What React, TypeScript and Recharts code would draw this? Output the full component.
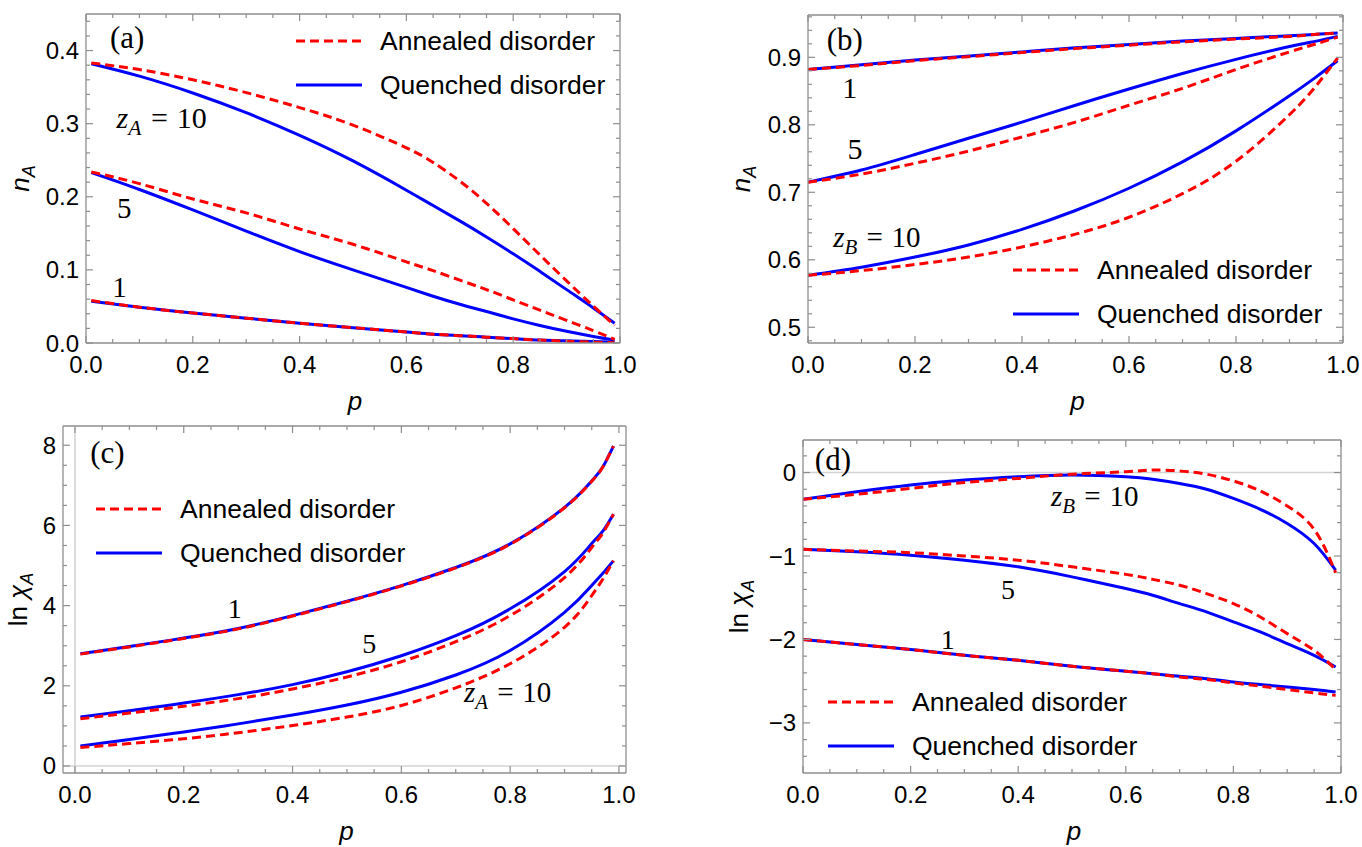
import React from 'react';
import { LineChart, Line, XAxis, YAxis, ReferenceLine, ReferenceDot, Legend } from 'recharts';

const FRAME = '#8e8e8e';
const ZERO = '#d4d4d4';
const BLUE = '#0000ff';
const RED = '#ff0000';
const SANS = '"Liberation Sans", Arial, Helvetica, sans-serif';
const SERIF = '"Liberation Serif", "Times New Roman", Times, serif';
const ANNEALED = 'Annealed disorder';
const QUENCHED = 'Quenched disorder';

// ---------------- panel (a): n_A vs p, z_A = 1, 5, 10 ----------------
const pA = [0.01, 0.1, 0.2, 0.3, 0.4, 0.5, 0.6, 0.65, 0.7, 0.75, 0.8, 0.85, 0.9, 0.95, 0.99];
const aQuenched10 = [0.382, 0.365, 0.342, 0.315, 0.284, 0.249, 0.209, 0.188, 0.167, 0.145, 0.122, 0.098, 0.073, 0.048, 0.027];
const aAnnealed10 = [0.383, 0.374, 0.36, 0.3425, 0.322, 0.298, 0.267, 0.247, 0.2215, 0.191, 0.1565, 0.1205, 0.085, 0.0505, 0.024];
const aQuenched5 = [0.233, 0.21, 0.182, 0.153, 0.125, 0.1, 0.076, 0.064, 0.053, 0.043, 0.033, 0.024, 0.016, 0.009, 0.004];
const aAnnealed5 = [0.234, 0.218, 0.197, 0.178, 0.156, 0.135, 0.111, 0.099, 0.086, 0.073, 0.059, 0.045, 0.031, 0.017, 0.005];
const aQuenched1 = [0.057, 0.049, 0.041, 0.034, 0.027, 0.021, 0.015, 0.012, 0.01, 0.008, 0.006, 0.004, 0.003, 0.002, 0.001];
const aAnnealed1 = [0.058, 0.049, 0.041, 0.034, 0.027, 0.021, 0.015, 0.012, 0.01, 0.008, 0.006, 0.004, 0.0025, 0.0012, 0.0003];

// ---------------- panel (b): n_A vs p, z_B = 1, 5, 10 ----------------
const pB = [0, 0.1, 0.2, 0.3, 0.4, 0.5, 0.6, 0.7, 0.8, 0.9, 0.95, 0.99];
const bQuenched1 = [0.882, 0.889, 0.896, 0.902, 0.908, 0.914, 0.919, 0.924, 0.928, 0.932, 0.934, 0.936];
const bAnnealed1 = [0.882, 0.888, 0.895, 0.901, 0.907, 0.913, 0.918, 0.923, 0.927, 0.931, 0.934, 0.936];
const bQuenched5 = [0.715, 0.733, 0.756, 0.78, 0.804, 0.829, 0.853, 0.876, 0.897, 0.916, 0.924, 0.931];
const bAnnealed5 = [0.715, 0.727, 0.743, 0.761, 0.782, 0.804, 0.829, 0.854, 0.882, 0.908, 0.92, 0.93];
const bQuenched10 = [0.577, 0.589, 0.604, 0.622, 0.645, 0.673, 0.706, 0.745, 0.791, 0.843, 0.871, 0.895];
const bAnnealed10 = [0.577, 0.584, 0.593, 0.604, 0.619, 0.638, 0.663, 0.698, 0.746, 0.815, 0.858, 0.899];

// ---------------- panel (c): ln chi_A vs p, z_A = 1, 5, 10 ----------------
const pC = [0.01, 0.1, 0.2, 0.3, 0.4, 0.5, 0.6, 0.7, 0.8, 0.9, 0.95, 0.97, 0.99];
const cQuenched1 = [2.8, 2.98, 3.19, 3.43, 3.75, 4.11, 4.5, 4.95, 5.54, 6.45, 7.11, 7.45, 7.98];
const cAnnealed1 = [2.79, 2.97, 3.18, 3.42, 3.74, 4.1, 4.49, 4.94, 5.53, 6.44, 7.1, 7.45, 7.98];
const cQuenched5 = [1.22, 1.38, 1.57, 1.78, 2.03, 2.35, 2.75, 3.25, 3.92, 4.85, 5.55, 5.85, 6.28];
const cAnnealed5 = [1.18, 1.32, 1.49, 1.68, 1.92, 2.22, 2.6, 3.1, 3.75, 4.7, 5.45, 5.8, 6.28];
const cQuenched10 = [0.5, 0.66, 0.85, 1.05, 1.27, 1.52, 1.84, 2.27, 2.88, 3.83, 4.5, 4.8, 5.12];
const cAnnealed10 = [0.46, 0.56, 0.68, 0.83, 1.01, 1.22, 1.51, 1.95, 2.55, 3.46, 4.25, 4.65, 5.12];

// ---------------- panel (d): ln chi_A vs p, z_B = 1, 5, 10 ----------------
const pD = [0, 0.1, 0.2, 0.3, 0.4, 0.5, 0.6, 0.65, 0.7, 0.75, 0.8, 0.85, 0.9, 0.95, 0.99];
const dQuenched10 = [-0.32, -0.23, -0.15, -0.09, -0.05, -0.03, -0.05, -0.08, -0.13, -0.2, -0.31, -0.44, -0.61, -0.85, -1.17];
const dAnnealed10 = [-0.32, -0.26, -0.19, -0.12, -0.07, -0.02, 0.01, 0.03, 0.02, -0.02, -0.1, -0.22, -0.4, -0.68, -1.2];
const dQuenched5 = [-0.92, -0.95, -0.99, -1.05, -1.13, -1.25, -1.39, -1.47, -1.57, -1.67, -1.79, -1.91, -2.05, -2.19, -2.33];
const dAnnealed5 = [-0.92, -0.94, -0.96, -1.0, -1.05, -1.13, -1.22, -1.28, -1.35, -1.45, -1.57, -1.73, -1.93, -2.13, -2.36];
const dQuenched1 = [-2.0, -2.06, -2.12, -2.19, -2.25, -2.32, -2.38, -2.41, -2.44, -2.47, -2.51, -2.54, -2.57, -2.6, -2.63];
const dAnnealed1 = [-2.0, -2.06, -2.12, -2.19, -2.25, -2.32, -2.38, -2.41, -2.45, -2.48, -2.52, -2.56, -2.6, -2.64, -2.67];

// ---------------- tick labels ----------------
const xMajorTicks = [0, 0.2, 0.4, 0.6, 0.8, 1.0];
const aYTicks = [0, 0.1, 0.2, 0.3, 0.4];
const bYTicks = [0.5, 0.6, 0.7, 0.8, 0.9];
const cYTicks = [0, 2, 4, 6, 8];
const dYTicks = [-3, -2, -1, 0];

function steps(lo: number, hi: number, step: number): number[] {
  const out: number[] = [];
  const n = Math.round((hi - lo) / step);
  for (let i = 0; i <= n; i++) out.push(+(lo + i * step).toFixed(6));
  return out;
}

function buildTable(p: number[], q1: number[], a1: number[], q5: number[], a5: number[], q10: number[], a10: number[]) {
  return p.map((v, i) => ({ p: v, q1: q1[i], a1: a1[i], q5: q5[i], a5: a5[i], q10: q10[i], a10: a10[i] }));
}

type Ann = { x: number; y: number; text: string; sub?: string; rest?: string; size: number };

const annA: Ann[] = [
  { x: 0.045, y: 0.403, text: '(a)', size: 31 },
  { x: 0.057, y: 0.2945, text: 'z', sub: 'A', rest: '10', size: 30 },
  { x: 0.058, y: 0.171, text: '5', size: 29 },
  { x: 0.049, y: 0.063, text: '1', size: 29 },
];
const annB: Ann[] = [
  { x: 0.035, y: 0.911, text: '(b)', size: 31 },
  { x: 0.064, y: 0.839, text: '1', size: 30 },
  { x: 0.074, y: 0.75, text: '5', size: 30 },
  { x: 0.047, y: 0.619, text: 'z', sub: 'B', rest: '10', size: 29 },
];
const annC: Ann[] = [
  { x: 0.028, y: 7.56, text: '(c)', size: 31 },
  { x: 0.281, y: 3.68, text: '1', size: 28 },
  { x: 0.528, y: 2.81, text: '5', size: 28 },
  { x: 0.715, y: 1.6, text: 'z', sub: 'A', rest: '10', size: 29 },
];
const annD: Ann[] = [
  { x: 0.022, y: 0.03, text: '(d)', size: 31 },
  { x: 0.461, y: -0.4, text: 'z', sub: 'B', rest: '10', size: 29 },
  { x: 0.368, y: -1.51, text: '5', size: 28 },
  { x: 0.256, y: -2.12, text: '1', size: 28 },
];

type Cfg = {
  box: { left: number; top: number; width: number; height: number };
  margin: { top: number; right: number; bottom: number; left: number };
  yAxisWidth: number;
  xAxisHeight: number;
  xDomain: [number, number];
  yDomain: [number, number];
  xMinor: number[];
  yMajor: number[];
  yMinor: number[];
  yFmt: (v: number) => string;
  yTitle: 'n' | 'chi';
  yTitleDist: number;
  data: any[];
  legend: { left: number; top: number };
  ann: Ann[];
  zeroX?: boolean;
  zeroY?: boolean;
};

const fmt1 = (v: number) => v.toFixed(1);
const fmtInt = (v: number) => (v < 0 ? '\u2212' + Math.abs(v) : String(v));
const isIn = (arr: number[], v: number) => arr.some((m) => Math.abs(m - v) < 1e-9);

function plotBounds(c: Cfg) {
  return {
    left: c.margin.left + c.yAxisWidth,
    right: c.box.width - c.margin.right,
    top: c.margin.top,
    bottom: c.box.height - c.margin.bottom - c.xAxisHeight,
  };
}

function makeXTick(c: Cfg) {
  const b = plotBounds(c);
  return (props: any) => {
    const v = props.payload.value;
    const x = props.x;
    const major = isIn(xMajorTicks, v);
    const len = major ? 7 : 4;
    return (
      <g>
        <line x1={x} y1={b.bottom} x2={x} y2={b.bottom - len} stroke={FRAME} strokeWidth={1.2} />
        <line x1={x} y1={b.top} x2={x} y2={b.top + len} stroke={FRAME} strokeWidth={1.2} />
        {major ? (
          <text x={x} y={b.bottom + 30} textAnchor="middle" fontFamily={SANS} fontSize={24} fill="#000">
            {fmt1(v)}
          </text>
        ) : null}
      </g>
    );
  };
}

function makeYTick(c: Cfg) {
  const b = plotBounds(c);
  return (props: any) => {
    const v = props.payload.value;
    const y = props.y;
    const major = isIn(c.yMajor, v);
    const len = major ? 7 : 4;
    return (
      <g>
        <line x1={b.left} y1={y} x2={b.left + len} y2={y} stroke={FRAME} strokeWidth={1.2} />
        <line x1={b.right} y1={y} x2={b.right - len} y2={y} stroke={FRAME} strokeWidth={1.2} />
        {major ? (
          <text x={b.left - 7} y={y + 8.5} textAnchor="end" fontFamily={SANS} fontSize={24} fill="#000">
            {c.yFmt(v)}
          </text>
        ) : null}
      </g>
    );
  };
}

function annShape(a: Ann) {
  return (props: any) => {
    const { cx, cy } = props;
    const s = a.size;
    return (
      <text x={cx} y={cy} fontFamily={SERIF} fontSize={s} fill="#000">
        <tspan fontStyle={a.sub ? 'italic' : 'normal'}>{a.text}</tspan>
        {a.sub ? (
          <tspan fontStyle="italic" fontSize={s * 0.72} dy={s * 0.24}>
            {a.sub}
          </tspan>
        ) : null}
        {a.rest ? (
          <tspan dy={-s * 0.24} dx={s * 0.32}>
            =
          </tspan>
        ) : null}
        {a.rest ? <tspan dx={s * 0.3}>{a.rest}</tspan> : null}
      </text>
    );
  };
}

function xTitle(props: any) {
  const vb = props.viewBox || { x: 0, y: 0, width: 0, height: 0 };
  return (
    <text x={vb.x + vb.width / 2 + 2} y={vb.y + 67} textAnchor="middle" fontFamily={SANS} fontStyle="italic" fontSize={26} fill="#000">
      p
    </text>
  );
}

function yTitle(kind: 'n' | 'chi', dist: number) {
  return (props: any) => {
    const vb = props.viewBox || { x: 0, y: 0, width: 0, height: 0 };
    const x = vb.x + vb.width - dist;
    const cy = vb.y + vb.height / 2;
    return (
      <text transform={`rotate(-90 ${x} ${cy})`} x={x} y={cy} textAnchor="middle" fontFamily={SANS} fontSize={26} fill="#000">
        {kind === 'n' ? (
          <>
            <tspan fontStyle="italic">n</tspan>
            <tspan fontStyle="italic" fontSize={18} dy={6}>A</tspan>
          </>
        ) : (
          <>
            <tspan>ln </tspan>
            <tspan fontStyle="italic">{'\u03c7'}</tspan>
            <tspan fontStyle="italic" fontSize={18} dy={6}>A</tspan>
          </>
        )}
      </text>
    );
  };
}

function LegendBox(props: any) {
  const payload: any[] = props.payload || [];
  const order = [ANNEALED, QUENCHED];
  const items = order.map((n) => payload.find((p) => p.value === n)).filter(Boolean);
  return (
    <div>
      {items.map((it: any) => (
        <div key={it.value} style={{ display: 'flex', alignItems: 'center', height: 44 }}>
          <svg width={66} height={10} style={{ display: 'block' }}>
            <line x1={0} y1={5} x2={66} y2={5} stroke={it.color} strokeWidth={3} strokeDasharray={it.value === ANNEALED ? '9 5' : undefined} />
          </svg>
          <span style={{ marginLeft: 18, fontFamily: SANS, fontSize: 26.5, color: '#000', whiteSpace: 'nowrap', lineHeight: '30px' }}>{it.value}</span>
        </div>
      ))}
    </div>
  );
}

const seriesOrder: { key: string; color: string; dashed: boolean; name?: string }[] = [
  { key: 'q1', color: BLUE, dashed: false },
  { key: 'q5', color: BLUE, dashed: false },
  { key: 'q10', color: BLUE, dashed: false, name: QUENCHED },
  { key: 'a1', color: RED, dashed: true },
  { key: 'a5', color: RED, dashed: true },
  { key: 'a10', color: RED, dashed: true, name: ANNEALED },
];

function Panel({ c }: { c: Cfg }) {
  const frameLine = { stroke: FRAME, strokeWidth: 1.3 };
  return (
    <div style={{ position: 'absolute', left: c.box.left, top: c.box.top, width: c.box.width, height: c.box.height }}>
      <LineChart width={c.box.width} height={c.box.height} data={c.data} margin={c.margin}>
        <XAxis
          xAxisId="main"
          dataKey="p"
          type="number"
          domain={c.xDomain}
          allowDataOverflow
          ticks={c.xMinor}
          interval={0}
          tickLine={false}
          tickSize={0}
          tickMargin={0}
          axisLine={frameLine}
          height={c.xAxisHeight}
          tick={makeXTick(c)}
          label={xTitle}
        />
        <YAxis
          yAxisId="main"
          type="number"
          domain={c.yDomain}
          allowDataOverflow
          ticks={c.yMinor}
          interval={0}
          tickLine={false}
          tickSize={0}
          tickMargin={0}
          axisLine={frameLine}
          width={c.yAxisWidth}
          tick={makeYTick(c)}
          label={yTitle(c.yTitle, c.yTitleDist)}
        />
        <ReferenceLine xAxisId="main" yAxisId="main" y={c.yDomain[1]} stroke={FRAME} strokeWidth={1.3} ifOverflow="visible" />
        <ReferenceLine xAxisId="main" yAxisId="main" x={c.xDomain[1]} stroke={FRAME} strokeWidth={1.3} ifOverflow="visible" />
        {c.zeroY ? <ReferenceLine xAxisId="main" yAxisId="main" y={0} stroke={ZERO} strokeWidth={1.6} /> : null}
        {c.zeroX ? <ReferenceLine xAxisId="main" yAxisId="main" x={0} stroke={ZERO} strokeWidth={1.6} /> : null}
        {seriesOrder.map((s) => (
          <Line
            key={s.key}
            xAxisId="main"
            yAxisId="main"
            type="natural"
            dataKey={s.key}
            name={s.name || s.key}
            stroke={s.color}
            strokeWidth={3}
            strokeDasharray={s.dashed ? '9 5' : undefined}
            dot={false}
            activeDot={false}
            legendType={s.name ? 'line' : 'none'}
            isAnimationActive={false}
          />
        ))}
        {c.ann.map((a, i) => (
          <ReferenceDot key={'ann' + i} xAxisId="main" yAxisId="main" x={a.x} y={a.y} r={0} shape={annShape(a)} ifOverflow="visible" />
        ))}
        <Legend
          layout="horizontal"
          verticalAlign="middle"
          align="center"
          content={(p: any) => <LegendBox payload={p.payload} />}
          wrapperStyle={{ left: c.legend.left, top: c.legend.top, width: 'auto', height: 'auto' }}
        />
      </LineChart>
    </div>
  );
}

const minorX01 = steps(0, 1, 0.05);

const cfgA: Cfg = {
  box: { left: 0, top: 0, width: 680, height: 420 },
  margin: { top: 14, right: 60, bottom: 0, left: 0 },
  yAxisWidth: 86,
  xAxisHeight: 77,
  xDomain: [0, 1],
  yDomain: [0, 0.45],
  xMinor: minorX01,
  yMajor: aYTicks,
  yMinor: steps(0, 0.44, 0.02),
  yFmt: fmt1,
  yTitle: 'n',
  yTitleDist: 57,
  data: buildTable(pA, aQuenched1, aAnnealed1, aQuenched5, aAnnealed5, aQuenched10, aAnnealed10),
  legend: { left: 296, top: 19 },
  ann: annA,
};

const cfgB: Cfg = {
  box: { left: 680, top: 0, width: 682, height: 420 },
  margin: { top: 15, right: 19, bottom: 0, left: 0 },
  yAxisWidth: 128,
  xAxisHeight: 77,
  xDomain: [0, 1],
  yDomain: [0.4767, 0.9627],
  xMinor: minorX01,
  yMajor: bYTicks,
  yMinor: steps(0.48, 0.96, 0.02),
  yFmt: fmt1,
  yTitle: 'n',
  yTitleDist: 58,
  data: buildTable(pB, bQuenched1, bAnnealed1, bQuenched5, bAnnealed5, bQuenched10, bAnnealed10),
  legend: { left: 333, top: 248 },
  ann: annB,
};

const cfgC: Cfg = {
  box: { left: 0, top: 420, width: 680, height: 427 },
  margin: { top: 6, right: 54, bottom: 0, left: 0 },
  yAxisWidth: 63,
  xAxisHeight: 74,
  xDomain: [-0.022, 1.013],
  yDomain: [-0.175, 8.48],
  xMinor: minorX01,
  yMajor: cYTicks,
  yMinor: steps(0, 8, 0.5),
  yFmt: fmtInt,
  yTitle: 'chi',
  yTitleDist: 36,
  data: buildTable(pC, cQuenched1, cAnnealed1, cQuenched5, cAnnealed5, cQuenched10, cAnnealed10),
  legend: { left: 96, top: 67 },
  ann: annC,
  zeroX: true,
  zeroY: true,
};

const cfgD: Cfg = {
  box: { left: 680, top: 420, width: 682, height: 427 },
  margin: { top: 20, right: 21, bottom: 0, left: 0 },
  yAxisWidth: 123,
  xAxisHeight: 74,
  xDomain: [0, 1],
  yDomain: [-3.6, 0.39],
  xMinor: minorX01,
  yMajor: dYTicks,
  yMinor: steps(-3.4, 0.2, 0.2),
  yFmt: fmtInt,
  yTitle: 'chi',
  yTitleDist: 55,
  data: buildTable(pD, dQuenched1, dAnnealed1, dQuenched5, dAnnealed5, dQuenched10, dAnnealed10),
  legend: { left: 148, top: 260 },
  ann: annD,
  zeroY: true,
};

export default function App() {
  return (
    <div style={{ position: 'absolute', left: 0, top: 0, width: 1362, height: 847, background: '#fff', overflow: 'hidden' }}>
      <Panel c={cfgA} />
      <Panel c={cfgB} />
      <Panel c={cfgC} />
      <Panel c={cfgD} />
    </div>
  );
}
